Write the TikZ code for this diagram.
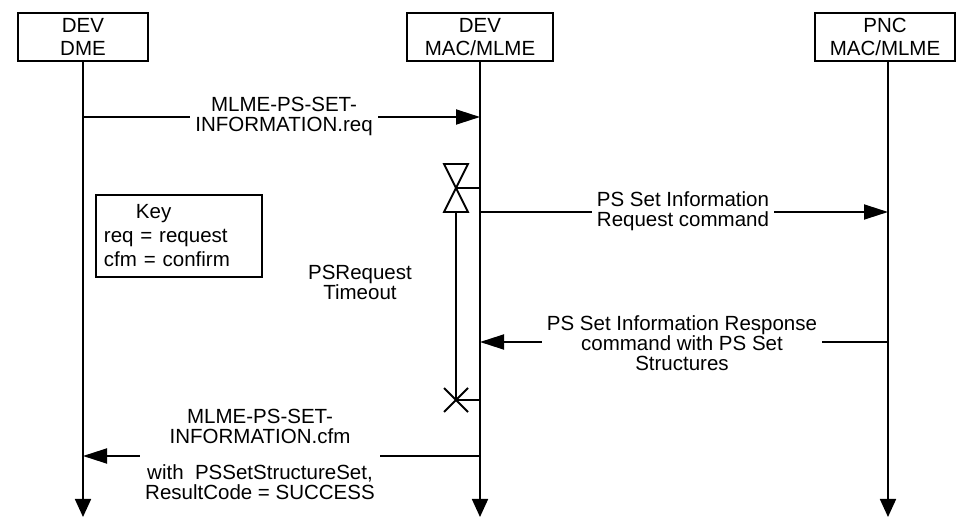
\documentclass[tikz,border=0pt]{standalone}
\usepackage{fontspec}
\setmainfont{Liberation Sans}
\usetikzlibrary{arrows.meta}
\begin{document}
\begin{tikzpicture}[x=0.5pt, y=-0.5pt, line width=0.9pt,
  font=\fontsize{10.25}{10}\selectfont,
  head/.style={draw, minimum height=24pt, inner sep=0pt, align=center,
    font=\fontsize{10.25}{11.5}\selectfont},
  life/.style={-{Triangle[length=9pt, width=8pt]}},
  msg/.style={-{Triangle[length=12pt, width=7.5pt]}},
  msglabel/.style={fill=white, align=center, inner xsep=2.5pt, inner ysep=0pt}]
  \useasboundingbox (0,0) rectangle (966,524);
  %% participants and their lifelines
  \node[head, minimum width=65pt] (dme) at (83,37) {DEV\\DME};
  \node[head, minimum width=73pt] (mac) at (480,37) {DEV\\MAC/MLME};
  \node[head, minimum width=70pt] (pnc) at (885,37) {PNC\\MAC/MLME};
  \coordinate (dmeEnd) at (83,517);
  \coordinate (macEnd) at (480,517);
  \coordinate (pncEnd) at (888,517);
  \draw[life] (dme.south) -- (dmeEnd);
  \draw[life] (mac.south) -- (macEnd);
  \draw[life] (pnc.south -| pncEnd) -- (pncEnd);
  %% message end points
  \coordinate (reqA) at (83,117);   \coordinate (reqB) at (480,117);
  \coordinate (cmdA) at (480,212);  \coordinate (cmdB) at (888,212);
  \coordinate (rspA) at (888,342);  \coordinate (rspB) at (480,342);
  \coordinate (cfmA) at (480,456);  \coordinate (cfmB) at (83,456);
  \draw[msg] (reqA) -- (reqB);
  \node[msglabel] (reqLab) at (284,116) {MLME-PS-SET-\\INFORMATION.req};
  \draw[msg] (cmdA) -- (cmdB);
  \node[msglabel] (cmdLab) at (683,211) {PS Set Information\\Request command};
  \draw[msg] (rspA) -- (rspB);
  \node[msglabel] (rspLab) at (682,343) {PS Set Information Response\\command with PS Set\\Structures};
  \draw[msg] (cfmA) -- (cfmB);
  \node[msglabel] (cfmLab) at (260,454)
    {MLME-PS-SET-\\INFORMATION.cfm\\[8pt]with\ \ PSSetStructureSet,\\ResultCode = SUCCESS};
  %% request timer
  \coordinate (tmTop) at (456,188);
  \coordinate (tmStart) at (456,212);
  \coordinate (tmStop) at (456,400);
  \draw (mac.south |- tmTop) -- (tmTop);
  \draw (tmTop) -- (444,164) -- (468,164) -- cycle;
  \draw (tmTop) -- (444,212) -- (468,212) -- cycle;
  \draw (tmStart) -- (tmStop);
  \draw (444,388) -- (468,412) (444,412) -- (468,388);
  \draw (tmStop) -- (mac.south |- tmStop);
  \node[align=center] (tmLab) at (360,282) {PSRequest\\Timeout};
  %% key
  \node[draw, text width=75pt, inner xsep=4pt, minimum height=41pt, align=left,
    font=\fontsize{10.25}{12}\selectfont] (key) at (179,236)
    {\hspace*{16pt}Key\\req = request\\cfm = confirm};
\end{tikzpicture}
\end{document}
